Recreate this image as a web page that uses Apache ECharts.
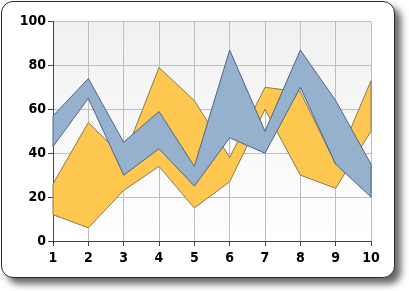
<!DOCTYPE html>
<html>
<head>
<meta charset="utf-8">
<script src="https://cdn.jsdelivr.net/npm/echarts@6/dist/echarts.min.js"></script>
<style>
html,body{margin:0;padding:0;width:409px;height:291px;overflow:hidden;background:#fff;}
#frame{position:absolute;left:1px;top:1px;width:392px;height:275px;border:1.5px solid #2a2a2a;border-radius:12px;background:#fff;box-shadow:6px 6px 7px rgba(0,0,0,0.6);}
#chart{position:absolute;left:0;top:0;width:409px;height:291px;}
</style>
</head>
<body>
<div id="frame"></div>
<div id="chart"></div>
<script>
var categories = ['1','2','3','4','5','6','7','8','9','10'];
var orangeLow  = [12, 6, 23, 34, 15, 27, 60, 30, 24, 50];
var orangeHigh = [26, 54, 38, 79, 64, 38, 70, 68, 35, 73];
var blueLow    = [43, 65, 30, 42, 25, 47, 40, 70, 35, 20];
var blueHigh   = [57, 74, 45, 59, 34, 87, 50, 87, 64, 35];
var yTicks = [0, 20, 40, 60, 80, 100];

function rangeRenderer(low, high, fill, edge) {
  return function (params, api) {
    if (params.dataIndex !== 0) return null;
    var pts = [];
    for (var i = 0; i < high.length; i++) pts.push(api.coord([i, high[i]]));
    for (var j = low.length - 1; j >= 0; j--) pts.push(api.coord([j, low[j]]));
    return {
      type: 'polygon',
      shape: { points: pts },
      style: { fill: fill, stroke: edge, lineWidth: 1 }
    };
  };
}

function rangeData(low, high) {
  return categories.map(function (c, i) { return [i, low[i], high[i]]; });
}

var chart = echarts.init(document.getElementById('chart'), null, { renderer: 'canvas' });
var labelFont = { color: '#000', fontWeight: 'bold', fontSize: 14, fontFamily: '"DejaVu Sans Condensed", "DejaVu Sans", sans-serif' };
chart.setOption({
  animation: false,
  backgroundColor: 'transparent',
  grid: {
    left: 53, top: 21.5, right: 38, bottom: 50,
    show: true,
    borderWidth: 0,
    backgroundColor: {
      type: 'linear', x: 0, y: 0, x2: 0, y2: 1,
      colorStops: [{ offset: 0, color: '#f1f1f1' }, { offset: 1, color: '#ffffff' }]
    }
  },
  xAxis: {
    type: 'category',
    data: categories,
    boundaryGap: false,
    axisLine: { show: true, lineStyle: { color: '#444', width: 1 } },
    axisTick: { show: true, length: 5, lineStyle: { color: '#444' } },
    axisLabel: Object.assign({ margin: 10 }, labelFont),
    splitLine: { show: true, lineStyle: { color: '#bdbdbd', width: 1 } }
  },
  yAxis: {
    type: 'value',
    min: yTicks[0], max: yTicks[yTicks.length - 1], interval: 20,
    axisLine: { show: true, lineStyle: { color: '#444', width: 1 } },
    axisTick: { show: true, length: 5, lineStyle: { color: '#444' } },
    axisLabel: Object.assign({ margin: 7 }, labelFont),
    splitLine: { show: true, lineStyle: { color: '#bdbdbd', width: 1 } }
  },
  series: [
    {
      type: 'custom',
      coordinateSystem: 'cartesian2d',
      renderItem: rangeRenderer(orangeLow, orangeHigh, '#fec850', '#8a7a55'),
      data: rangeData(orangeLow, orangeHigh),
      encode: { x: 0, y: [1, 2] },
      z: 2
    },
    {
      type: 'custom',
      coordinateSystem: 'cartesian2d',
      renderItem: rangeRenderer(blueLow, blueHigh, '#95b1cd', '#4d6685'),
      data: rangeData(blueLow, blueHigh),
      encode: { x: 0, y: [1, 2] },
      z: 3
    }
  ]
});
</script>
</body>
</html>
